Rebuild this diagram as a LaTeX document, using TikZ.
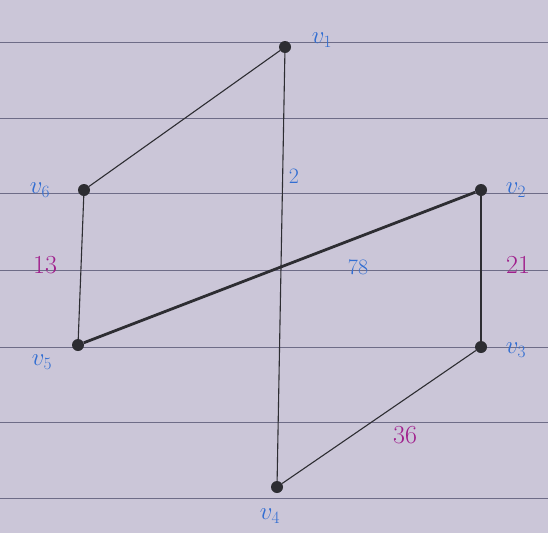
\documentclass[tikz,border=0pt]{standalone}
\usetikzlibrary{calc}
\definecolor{paper}{RGB}{203,198,216}
\definecolor{rule}{RGB}{110,108,135}
\definecolor{ink}{RGB}{45,45,50}
\definecolor{bluelab}{RGB}{50,110,210}
\definecolor{maglab}{RGB}{160,30,140}
\begin{document}
\begin{tikzpicture}[x=1pt,y=-1pt,
  vtx/.style={circle,fill=ink,inner sep=0pt,minimum size=12pt},
  edge/.style={draw=ink,line width=1.1pt},
  vlab/.style={text=bluelab,font=\fontsize{26}{28}\selectfont},
  wblue/.style={text=bluelab,font=\fontsize{22}{24}\selectfont},
  wmag/.style={text=maglab,font=\fontsize{26}{28}\selectfont}]
\fill[paper] (0,0) rectangle (548,533);
\useasboundingbox (0,0) rectangle (548,533);
\foreach \y in {42,118,193,270,347,422,498}
  \draw[rule,line width=1pt] (0,\y) -- (548,\y);
\node[vtx] (v1) at (285,47) {};
\node[vtx] (v2) at (481,190) {};
\node[vtx] (v3) at (481,347) {};
\node[vtx] (v4) at (277,487) {};
\node[vtx] (v5) at (78,345) {};
\node[vtx] (v6) at (84,190) {};
\draw[edge] (v1) -- (v6);
\draw[edge] (v1) -- (v4);
\draw[edge] (v6) -- (v5);
\draw[edge,line width=2.8pt] (v5) -- (v2);
\draw[edge] (v2) -- (v3);
\draw[edge] (v3) -- (v4);
\node[vlab] (l1) at (322,40) {$v_1$};
\node[vlab] (l2) at (516,190) {$v_2$};
\node[vlab] (l3) at (516,350) {$v_3$};
\node[vlab] (l4) at (270,516) {$v_4$};
\node[vlab] (l5) at (42,362) {$v_5$};
\node[vlab] (l6) at (40,190) {$v_6$};
\node[wblue] (w2) at (294,176) {2};
\node[wblue] (w78) at (358,267) {78};
\node[wmag] (w13) at (45,265) {13};
\node[wmag] (w21) at (518,265) {21};
\node[wmag] (w36) at (405,435) {36};
\end{tikzpicture}
\end{document}
